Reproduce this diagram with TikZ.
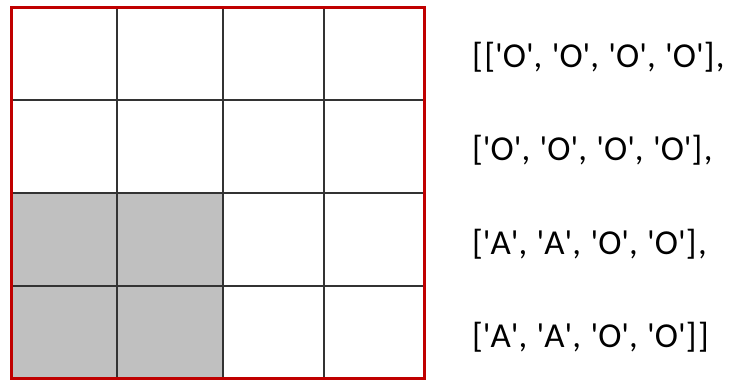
\documentclass[tikz,border=0pt]{standalone}
\usepackage{fontspec}
\setmainfont{Carlito}[LetterSpace=4]
\definecolor{gridred}{HTML}{C00000}
\definecolor{cellgray}{HTML}{C0C0C0}
\newcommand{\qq}[1]{\textquotesingle#1\textquotesingle}
\begin{document}
\begin{tikzpicture}[x=1pt,y=-1pt,
  gridline/.style={line width=1.5pt,black!80},
  frame/.style={line width=3pt,draw=gridred},
  graycell/.style={fill=cellgray},
  rowtext/.style={anchor=base west,inner sep=0pt,font=\fontsize{35}{35}\selectfont}]
\useasboundingbox (0,0) rectangle (731,383);
\fill[graycell] (11,193) rectangle (223,378);
\foreach \x in {117,223,324} \draw[gridline] (\x,7) -- (\x,378);
\foreach \y in {100,193,286} \draw[gridline] (11,\y) -- (424,\y);
\draw[frame] (11,7) rectangle (424,378);
\node[rowtext] (r1) at (472,67) {[[\qq{O}, \qq{O}, \qq{O}, \qq{O}],};
\node[rowtext] (r2) at (472,160) {[\qq{O}, \qq{O}, \qq{O}, \qq{O}],};
\node[rowtext] (r3) at (472,254) {[\qq{A}, \qq{A}, \qq{O}, \qq{O}],};
\node[rowtext] (r4) at (472,347) {[\qq{A}, \qq{A}, \qq{O}, \qq{O}]]};
\end{tikzpicture}
\end{document}
